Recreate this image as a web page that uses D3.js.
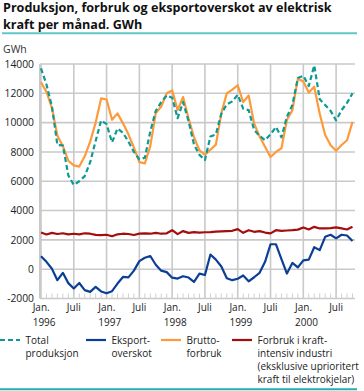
<!DOCTYPE html>
<html><head><meta charset="utf-8">
<script src="https://cdn.jsdelivr.net/npm/d3@7/dist/d3.min.js"></script>
<style>
html,body{margin:0;padding:0;background:#fff;}
svg{display:block;font-family:"Open Sans",sans-serif;}
</style></head><body>
<svg id="c" width="364" height="391"></svg>
<script>
// Monthly data, Jan 1996 – Oct 2000 (GWh)
const months = d3.timeMonth.range(new Date(1996,0,1), new Date(2000,10,1));
const totalProduksjon = [13700,12600,11100,8470,8450,6400,5750,6000,6350,7300,8750,10150,
  9900,8650,9600,9300,8700,8000,7500,7600,9400,10800,11400,11850,
  11700,10300,11400,10100,8500,7800,7450,9050,9200,10600,11250,11450,
  11900,10950,10850,9500,9100,8800,9200,9700,9000,10400,11200,13050,
  13200,12500,13900,11600,11200,10800,10150,10850,11350,12000];
const bruttoforbruk = [12750,12100,11000,9100,8400,7400,7080,7000,7700,8700,10000,11650,
  11580,10200,10630,9950,9200,8300,7300,7220,8400,10650,11100,12000,
  12200,10850,11750,10300,9000,8100,7800,8150,8500,10650,12000,12250,
  12550,11400,11850,9950,9050,8350,7650,8000,8250,10200,10850,13000,
  12800,12050,12450,10600,9150,8450,8080,8470,8800,10050];
const eksportoverskot = [890,500,30,-750,-250,-950,-1320,-940,-1430,-1550,-1210,-1520,
  -1640,-1500,-980,-530,-560,-100,550,780,900,300,-100,-200,
  -580,-640,-480,-570,-870,-300,-400,1000,650,180,-620,-750,
  -650,-430,-830,-550,-250,500,1700,1700,680,-300,430,120,
  600,650,1500,1300,2210,2350,2100,2350,2300,1920];
const kraftintensiv = [2500,2370,2480,2400,2450,2380,2420,2380,2450,2420,2340,2330,
  2350,2250,2380,2420,2400,2330,2430,2450,2420,2480,2420,2450,
  2660,2390,2600,2480,2530,2500,2520,2530,2560,2580,2600,2620,
  2730,2480,2660,2550,2600,2500,2440,2660,2620,2640,2660,2700,
  2850,2710,2890,2780,2780,2800,2850,2780,2710,2890];
const yTicks = [-2000,0,2000,4000,6000,8000,10000,12000,14000];
const yearLabels = ["1996","1997","1998","1999","2000"];
const janLabel = "Jan.", julLabel = "Juli";
const series = [
  {name:["Total","produksjon"], values: totalProduksjon, color:"#0c9a94", dash:"5,3"},
  {name:["Eksport-","overskot"], values: eksportoverskot, color:"#0b3f96", dash:null},
  {name:["Brutto-","forbruk"], values: bruttoforbruk, color:"#ff9a3a", dash:null},
  {name:["Forbruk i kraft-","intensiv industri","(eksklusive uprioritert","kraft til elektrokjelar)"], values: kraftintensiv, color:"#a30d0d", dash:null}
];

const svg = d3.select("#c");
const x = d3.scaleLinear().domain([0, 57]).range([41, 352.5]);
const y = d3.scaleLinear().domain([-2000, 14000]).range([298.5, 64]);
const xEnd = 355, xStart = 40;
const grid = "#c9c9c9";

// Title
const title = svg.append("g").attr("font-weight","bold").attr("fill","#111");
const t1 = title.append("text").attr("x",3).attr("y",12).attr("font-size",12)
  .text("Produksjon, forbruk og eksportoverskot av elektrisk");
const w = t1.node().getComputedTextLength();
const fs = 12*329/w;
t1.attr("font-size",fs);
title.append("text").attr("x",3).attr("y",28.6).attr("font-size",fs).text("kraft per månad. GWh");
svg.append("line").attr("x1",2).attr("x2",357).attr("y1",33.3).attr("y2",33.3)
  .attr("stroke","#62c6c6").attr("stroke-width",2);

svg.append("text").attr("x",3).attr("y",53).attr("font-size",10.5).attr("fill","#333").text("GWh");

// Horizontal gridlines
svg.append("g").selectAll("line").data(yTicks).join("line")
  .attr("x1",xStart).attr("x2",xEnd).attr("y1",d=>y(d)).attr("y2",d=>y(d))
  .attr("stroke",grid).attr("stroke-width",1.6);
// y labels
svg.append("g").selectAll("text").data(yTicks).join("text")
  .attr("x",34).attr("y",d=>y(d)+3.8).attr("text-anchor","end")
  .attr("font-size",10.3).attr("fill","#222").text(d=>d);

// Vertical gridlines every 6 months
const majorIdx = months.map((m,i)=>i).filter(i=>months[i].getMonth()%6===0);
svg.append("g").selectAll("line").data(majorIdx).join("line")
  .attr("x1",d=>x(d)).attr("x2",d=>x(d)).attr("y1",y(14000)).attr("y2",y(-2000))
  .attr("stroke",grid).attr("stroke-width",1.6);
svg.append("line").attr("x1",xStart).attr("x2",xStart).attr("y1",y(14000)).attr("y2",y(-2000))
  .attr("stroke",grid).attr("stroke-width",2);
// Minor monthly ticks
svg.append("g").selectAll("line").data(months.map((m,i)=>i).filter(i=>months[i].getMonth()%6!==0)).join("line")
  .attr("x1",d=>x(d)).attr("x2",d=>x(d)).attr("y1",y(-2000)-5).attr("y2",y(-2000))
  .attr("stroke","#d0d0d0").attr("stroke-width",1);

// x labels
const xl = svg.append("g").attr("font-size",10).attr("fill","#222");
majorIdx.forEach(i=>{
  const m = months[i];
  if (m.getMonth()===0){
    xl.append("text").attr("x",x(i)-8.3).attr("y",311).text(janLabel);
    xl.append("text").attr("x",x(i)-8.3).attr("y",326).text(yearLabels[m.getFullYear()-1996]);
  } else {
    xl.append("text").attr("x",x(i)).attr("y",311).attr("text-anchor","middle").text(julLabel);
  }
});

// Lines
const line = d3.line().x((d,i)=>x(i)).y(d=>y(d));
const drawOrder = [3,1,2,0];
drawOrder.forEach(k=>{
  const s = series[k];
  svg.append("path").datum(s.values).attr("d",line).attr("fill","none")
    .attr("stroke",s.color).attr("stroke-width",2.2).attr("stroke-linejoin","round")
    .attr("stroke-dasharray",s.dash);
});

// Legend
const legX = [0,86,161,232];
const lg = svg.append("g").attr("font-size",10).attr("fill","#222");
series.forEach((s,k)=>{
  lg.append("line").attr("x1",legX[k]).attr("x2",legX[k]+20).attr("y1",340).attr("y2",340)
    .attr("stroke",s.color).attr("stroke-width",2.2).attr("stroke-dasharray",s.dash);
  s.name.forEach((n,j)=>{
    lg.append("text").attr("x",legX[k]+25.5).attr("y",343.5+j*13).text(n);
  });
});
svg.append("line").attr("x1",0).attr("x2",357).attr("y1",389.3).attr("y2",389.3)
  .attr("stroke","#2aacac").attr("stroke-width",2);
</script>
</body></html>
